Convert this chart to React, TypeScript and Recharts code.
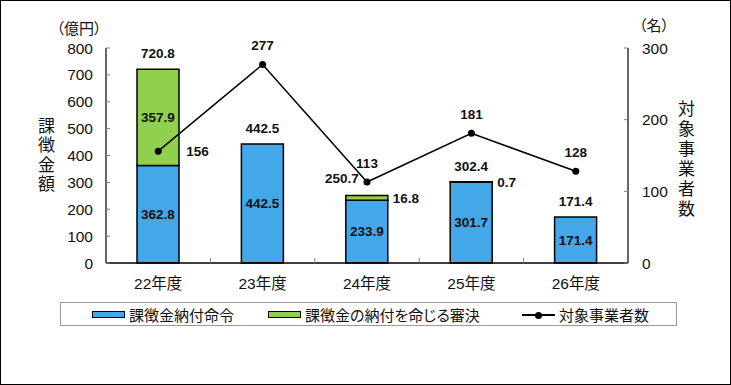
import React from 'react'
import { ComposedChart, Bar, Line, XAxis, YAxis, LabelList } from 'recharts'

const categories = ['22年度', '23年度', '24年度', '25年度', '26年度']
const orders = [362.8, 442.5, 233.9, 301.7, 171.4]
const rulings = [357.9, 0, 16.8, 0.7, 0]
const totals = [720.8, 442.5, 250.7, 302.4, 171.4]
const companies = [156, 277, 113, 181, 128]

const leftTicks = [0, 100, 200, 300, 400, 500, 600, 700, 800]
const rightTicks = [0, 100, 200, 300]

const data = categories.map((name, i) => ({
  name,
  orders: orders[i],
  rulings: rulings[i],
  total: totals[i],
  companies: companies[i],
}))

const BLUE = '#44A7E9'
const GREEN = '#8FD14F'
const NUM_FONT = '"Liberation Sans", Arial, sans-serif'
const JP_FONT = '"Liberation Sans", "Noto Sans CJK JP", sans-serif'
const HALF_BAND = 52.2

const valueText = (x: number, y: number, text: string, anchor: 'start' | 'middle' | 'end' = 'middle') => (
  <text
    x={x}
    y={y}
    dy="0.36em"
    textAnchor={anchor}
    fontFamily={NUM_FONT}
    fontWeight="bold"
    fontSize={13.5}
    fill="#111"
  >
    {text}
  </text>
)

const XTick = (props: any) => {
  const { x, y, payload, index } = props
  return (
    <g>
      {index > 0 && (
        <line x1={x - HALF_BAND} x2={x - HALF_BAND} y1={y} y2={y - 5} stroke="#808080" />
      )}
      <text x={x} y={y} dy={26} textAnchor="middle" fontFamily={JP_FONT} fontSize={15.5} fill="#111">
        {payload.value}
      </text>
    </g>
  )
}

// all bar labels hang off the blue (bottom) segment, whose rect exists for every year;
// pixels per unit come from that rect so the stacked tops follow the axis scale
const renderOrderLabel = (p: any) => {
  const { x, y, width, height, value } = p
  return valueText(x + width / 2, y + height / 2, Number(value).toFixed(1))
}

const renderRulingLabel = (p: any) => {
  const { x, y, width, height, index } = p
  const r = rulings[index]
  if (!r) return null
  const ppu = height / orders[index]
  const segH = r * ppu
  const cy = y - segH / 2
  if (segH > 20) return valueText(x + width / 2, cy, r.toFixed(1))
  return valueText(x + width + 5, cy, r.toFixed(1), 'start')
}

const renderTotalLabel = (p: any) => {
  const { x, y, width, height, value, index } = p
  const ppu = height / orders[index]
  const top = y + height - Number(value) * ppu
  const text = Number(value).toFixed(1)
  if (index === 2) return valueText(x + width / 2 - 8, top - 17, text, 'end')
  return valueText(x + width / 2, top - 16, text)
}

const renderCountLabel = (p: any) => {
  const { x, y, value, index } = p
  if (index === 0) return valueText(x + 28, y, String(value), 'start')
  return valueText(x, y - 19, String(value))
}

const overlayText: React.CSSProperties = {
  position: 'absolute',
  fontFamily: '"Noto Sans CJK JP", sans-serif',
  fontFeatureSettings: '"palt"',
  color: '#111',
  whiteSpace: 'nowrap',
}

export default function App() {
  return (
    <div style={{ position: 'absolute', left: 0, top: 0, width: 731, height: 385, background: '#fff' }}>
      <ComposedChart
        width={731}
        height={385}
        data={data}
        margin={{ top: 48, right: 43, left: 46, bottom: 92 }}
      >
        <XAxis
          dataKey="name"
          height={30}
          axisLine={{ stroke: '#000', strokeWidth: 1.5 }}
          tickLine={false}
          tickSize={0}
          tickMargin={0}
          tick={<XTick />}
          interval={0}
        />
        <YAxis
          yAxisId="left"
          width={60}
          domain={[0, 800]}
          ticks={leftTicks}
          interval={0}
          axisLine={{ stroke: '#000', strokeWidth: 1.2 }}
          tickLine={{ stroke: '#808080' }}
          tickSize={-4}
          tickMargin={17}
          tick={{ fontFamily: NUM_FONT, fontSize: 15.5, fill: '#111' }}
        />
        <YAxis
          yAxisId="right"
          orientation="right"
          width={60}
          domain={[0, 300]}
          ticks={rightTicks}
          interval={0}
          axisLine={{ stroke: '#000', strokeWidth: 1.2 }}
          tickLine={{ stroke: '#808080' }}
          tickSize={-4}
          tickMargin={18}
          tick={{ fontFamily: NUM_FONT, fontSize: 15.5, fill: '#111', textAnchor: 'start' }}
        />
        <Bar
          yAxisId="left"
          dataKey="orders"
          stackId="a"
          fill={BLUE}
          stroke="#000"
          strokeWidth={1.5}
          barSize={42}
          isAnimationActive={false}
        >
          <LabelList dataKey="orders" content={renderOrderLabel} />
          <LabelList dataKey="rulings" content={renderRulingLabel} />
          <LabelList dataKey="total" content={renderTotalLabel} />
        </Bar>
        <Bar
          yAxisId="left"
          dataKey="rulings"
          stackId="a"
          fill={GREEN}
          stroke="#000"
          strokeWidth={1.5}
          barSize={42}
          isAnimationActive={false}
        />
        <Line
          yAxisId="right"
          dataKey="companies"
          type="linear"
          stroke="#000"
          strokeWidth={1.5}
          dot={{ r: 3.5, fill: '#000', stroke: '#000', strokeWidth: 0 }}
          activeDot={false}
          isAnimationActive={false}
        >
          <LabelList dataKey="companies" content={renderCountLabel} />
        </Line>
      </ComposedChart>

      <div style={{ ...overlayText, left: 79, top: 27, fontSize: 15, transform: 'translate(-50%, -50%)' }}>（億円）</div>
      <div style={{ ...overlayText, left: 654, top: 24, fontSize: 15, transform: 'translate(-50%, -50%)' }}>（名）</div>
      <div
        style={{
          ...overlayText,
          left: 34,
          top: 117,
          fontSize: 17,
          writingMode: 'vertical-rl',
          letterSpacing: 2.5,
          fontFeatureSettings: 'normal',
        }}
      >
        課徴金額
      </div>
      <div
        style={{
          ...overlayText,
          left: 674,
          top: 100,
          fontSize: 17,
          writingMode: 'vertical-rl',
          letterSpacing: 3,
          fontFeatureSettings: 'normal',
        }}
      >
        対象事業者数
      </div>

      <div
        style={{
          position: 'absolute',
          left: 60,
          top: 302,
          width: 617,
          height: 24,
          boxSizing: 'border-box',
          border: '1px solid #9a9a9a',
        }}
      >
        <div style={{ position: 'absolute', left: 31, top: 8, width: 33, height: 7, boxSizing: 'border-box', background: BLUE, border: '1.5px solid #000' }} />
        <div style={{ ...overlayText, left: 68, top: 1, fontSize: 15 }}>課徴金納付命令</div>
        <div style={{ position: 'absolute', left: 207, top: 8, width: 33, height: 7, boxSizing: 'border-box', background: GREEN, border: '1.5px solid #000' }} />
        <div style={{ ...overlayText, left: 244, top: 1, fontSize: 15 }}>課徴金の納付を命じる審決</div>
        <div style={{ position: 'absolute', left: 461, top: 11, width: 33, height: 1.5, background: '#000' }} />
        <div style={{ position: 'absolute', left: 474, top: 8.5, width: 7, height: 7, borderRadius: '50%', background: '#000' }} />
        <div style={{ ...overlayText, left: 498, top: 1, fontSize: 15 }}>対象事業者数</div>
      </div>

      <div
        style={{
          position: 'absolute',
          left: 0,
          top: 0,
          width: 731,
          height: 385,
          boxSizing: 'border-box',
          border: '1px solid #000',
          pointerEvents: 'none',
        }}
      />
    </div>
  )
}
